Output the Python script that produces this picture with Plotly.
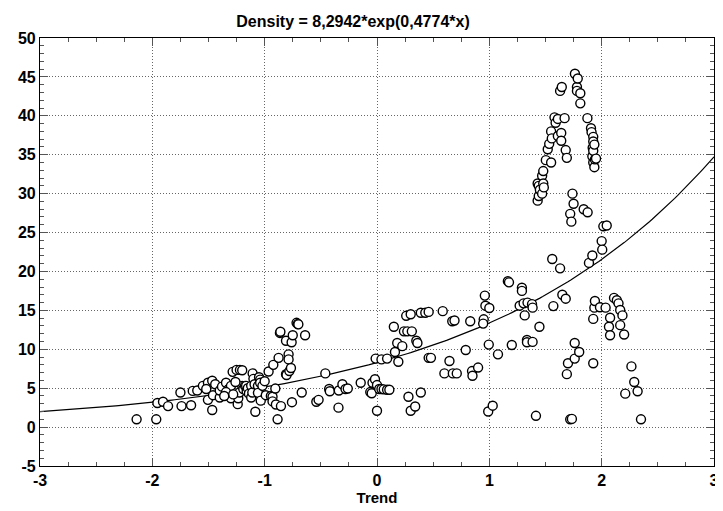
import numpy as np
import plotly.graph_objects as go

# Fitted model (from title): Density = A*exp(B*x)
coef_a = 8.2942
coef_b = 0.4774
title_text = "Density = 8,2942*exp(0,4774*x)"

x_ticks = [-3, -2, -1, 0, 1, 2, 3]
y_ticks = [-5, 0, 5, 10, 15, 20, 25, 30, 35, 40, 45, 50]

trend = [
    -2.14, -1.965, -1.955, -1.905, -1.86, -1.74, -1.655, -1.75, -1.64, -1.60, -1.55, -1.505, -1.505, -1.467, -1.44, -1.467, -1.46, -1.52,
    -1.40, -1.40, -1.38, -1.344, -1.32, -1.30, -1.30, -1.285, -1.25, -1.22, -1.344, -1.24, -1.235, -1.225, -1.2, -1.19, -1.175, -1.165,
    -1.16, -1.15, -1.14, -1.12, -1.12, -1.11, -1.107, -1.10, -1.09, -1.083, -1.06, -1.06, -1.05, -1.04, -1.04, -1.035, -1.02, -1.0,
    -1.2, -1.26, -1.28, -1.36,
    -0.99, -0.965, -0.945, -0.93, -0.93, -0.923, -0.905, -0.9, -0.885, -0.876, -0.864, -0.86, -0.855, -0.81, -0.81, -0.805, -0.787,
    -0.787, -0.78, -0.766, -0.76, -0.757, -0.75, -0.716, -0.705, -0.70, -0.67, -0.64,
    -0.54, -0.52, -0.46, -0.426, -0.42, -0.343, -0.34, -0.308, -0.28, -0.26, -0.145, -0.06, -0.047, -0.04, -0.018, -0.012, 0.0, 0.0,
    0.02, 0.04, 0.04, 0.06, 0.09, 0.09, 0.11, 0.15, 0.16, 0.18, 0.19, 0.225, 0.24, 0.26, 0.27, 0.28, 0.3, 0.3, 0.31, 0.34, 0.35, 0.36,
    0.39, 0.39, 0.43, 0.46, 0.46, 0.48,
    0.585, 0.6, 0.645, 0.67, 0.675, 0.69, 0.71, 0.79, 0.83, 0.846, 0.85, 0.9, 0.95, 0.945, 0.96, 0.965, 0.99, 0.995, 1.0,
    1.03, 1.077, 1.165, 1.175, 1.2, 1.27, 1.29, 1.29, 1.305, 1.315, 1.335, 1.335, 1.34, 1.38, 1.385, 1.385,
    1.415, 1.43, 1.44, 1.43, 1.44, 1.446, 1.45, 1.47, 1.47, 1.48, 1.48, 1.485, 1.503, 1.52, 1.533, 1.55, 1.55, 1.556, 1.56, 1.57, 1.58, 1.59,
    1.61, 1.61, 1.63, 1.63, 1.645, 1.64, 1.64, 1.65, 1.67, 1.68, 1.68, 1.69, 1.69, 1.70, 1.72, 1.72, 1.73, 1.735, 1.74, 1.75, 1.76, 1.76,
    1.762, 1.78, 1.78, 1.787, 1.8,
    1.81, 1.81, 1.84, 1.873, 1.875, 1.887, 1.905, 1.91, 1.917, 1.917, 1.92, 1.925, 1.925, 1.925, 1.925, 1.925, 1.925, 1.935, 1.935,
    1.935, 1.94, 1.94, 1.95, 1.985,
    2.0, 2.005, 2.015, 2.045, 2.035, 2.065, 2.075, 2.075, 2.11, 2.135, 2.15, 2.165, 2.185, 2.165, 2.2, 2.21, 2.265, 2.29, 2.32, 2.35,
]

density = [
    1.0, 1.0, 3.1, 3.25, 2.7, 2.7, 2.8, 4.45, 4.65, 4.7, 5.3, 5.7, 3.5, 5.95, 5.5, 2.2, 4.1, 4.9,
    3.8, 4.7, 5.2, 5.7, 4.9, 5.3, 3.7, 7.1, 7.35, 7.35, 4.5, 2.95, 3.7, 4.45, 5.3, 4.9, 5.3, 5.3,
    4.6, 5.0, 4.3, 3.8, 5.3, 4.45, 6.9, 6.2, 5.5, 1.97, 5.3, 4.4, 6.4, 6.1, 5.7, 3.4, 5.3, 5.9,
    7.3, 5.8, 4.2, 4.0,
    4.1, 7.15, 4.0, 3.9, 3.3, 8.0, 4.95, 2.9, 1.0, 8.9, 12.1, 12.25, 2.7, 11.1, 6.8, 6.7, 9.35,
    8.7, 7.2, 7.6, 10.9, 3.2, 11.8, 13.4, 13.25, 13.2, 4.45, 11.8,
    3.25, 3.5, 6.9, 4.9, 4.6, 2.5, 4.7, 5.5, 4.9, 4.95, 5.7, 4.5, 4.35, 5.7, 6.15, 8.8, 5.4, 2.1,
    4.9, 8.7, 4.9, 4.85, 8.8, 4.8, 4.8, 12.9, 9.65, 10.8, 8.4, 10.4, 12.3, 14.3, 12.3, 3.9, 14.5, 2.1, 12.3, 2.65, 11.1, 10.8,
    14.7, 4.45, 14.7, 14.8, 8.9, 8.9,
    14.9, 6.9, 8.5, 13.6, 6.9, 13.7, 6.9, 9.9, 13.6, 7.2, 6.6, 7.65, 13.85, 13.3, 16.9, 15.6, 2.0, 10.6, 15.3,
    2.75, 9.35, 18.75, 18.6, 10.55, 15.6, 17.9, 17.5, 15.9, 14.35, 11.2, 10.9, 16.0, 15.8, 15.35, 10.95,
    1.45, 31.3, 31.0, 29.1, 29.7, 12.9, 30.5, 32.3, 30.0, 32.9, 31.3, 30.8, 34.3, 35.7, 36.4, 38.0, 34.0, 37.1, 21.6, 15.55, 39.8, 39.1,
    39.6, 37.4, 20.4, 43.2, 43.7, 37.8, 36.8, 17.0, 39.7, 16.5, 35.6, 34.6, 6.8, 8.2, 27.4, 1.0, 26.4, 1.05, 30.0, 28.7, 10.8, 8.8,
    45.4, 43.7, 43.2, 44.8, 9.65,
    42.9, 41.6, 28.0, 39.7, 27.6, 21.1, 38.4, 37.9, 22.05, 34.8, 35.9, 37.3, 36.7, 35.5, 34.0, 13.9, 8.2, 36.3, 33.4,
    15.35, 34.4, 16.2, 34.5, 15.4,
    23.9, 22.8, 25.8, 25.9, 15.35, 12.9, 14.05, 11.8, 16.6, 16.3, 15.9, 15.05, 14.35, 13.1, 11.9, 4.3, 7.8, 5.8, 4.6, 1.0,
]

curve_x = np.linspace(-3, 3, 241)
curve_y = coef_a * np.exp(coef_b * curve_x)

FONT = "Liberation Sans, Arial, sans-serif"
FIG_W, FIG_H = 715, 503  # page body adds an 8px offset

fig = go.Figure()
fig.add_trace(go.Scatter(
    x=curve_x, y=curve_y, mode="lines",
    line=dict(color="black", width=1.2), showlegend=False, hoverinfo="skip",
))
fig.add_trace(go.Scatter(
    x=trend, y=density, mode="markers",
    marker=dict(symbol="circle", size=9, color="white",
                line=dict(color="black", width=1.4)),
    showlegend=False,
))

common = dict(
    showgrid=True, gridcolor="#666", griddash="1px,2px", gridwidth=1,
    zeroline=False, showline=True, linecolor="black", linewidth=1.2, mirror="allticks",
    ticks="inside", ticklen=8, tickcolor="#555", automargin=False,
    tickfont=dict(family=FONT, size=16, color="black", weight="bold"),
)

fig.update_layout(
    width=FIG_W, height=FIG_H,
    margin=dict(l=32, r=9, t=30, b=45),
    paper_bgcolor="white", plot_bgcolor="white",
    title=dict(text=title_text, x=345 / FIG_W, xanchor="center",
               yref="container", y=1 - 13 / FIG_H, yanchor="middle",
               font=dict(family=FONT, size=16, color="black", weight="bold")),
    xaxis=dict(
        range=[-3, 3], tickvals=x_ticks, ticktext=[str(v) for v in x_ticks],
        minor=dict(ticks="inside", ticklen=4, dtick=0.25, tick0=0, tickcolor="#555", showgrid=False),
        title=dict(text="Trend", font=dict(family=FONT, size=15, color="black", weight="bold"), standoff=3),
        **common,
    ),
    yaxis=dict(
        range=[-5, 50], tickvals=y_ticks, ticktext=[str(v) for v in y_ticks],
        minor=dict(ticks="inside", ticklen=4, dtick=1, tick0=0, tickcolor="#555", showgrid=False),
        **common,
    ),
)

fig.write_html("out.html")
